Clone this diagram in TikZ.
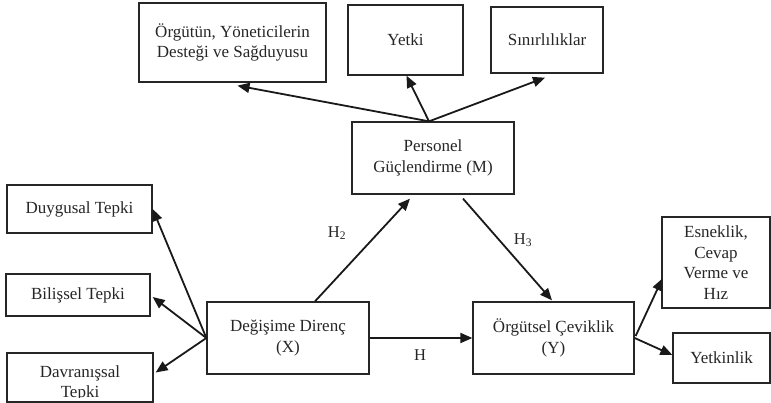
\documentclass[tikz,border=0pt]{standalone}
\usepackage{fontspec}
\setmainfont{Liberation Serif}
\usetikzlibrary{arrows.meta,calc}
\begin{document}
\begin{tikzpicture}[x=1pt,y=-1pt,
  box/.style={draw=black!85, line width=1.3pt, inner sep=2pt, align=center,
    font=\fontsize{17}{20.5}\selectfont, text=black!85},
  arr/.style={draw=black!90, line width=1.8pt, -{Triangle[length=12pt,width=10pt]}},
  lab/.style={font=\fontsize{16.5}{18}\selectfont, text=black!85}]
\useasboundingbox (0,0) rectangle (771,403);
\node[box, minimum width=187pt, minimum height=79pt] (org) at (232.5,42.5) {Örgütün, Yöneticilerin\\Desteği ve Sağduyusu};
\node[box, minimum width=115pt, minimum height=70pt] (yetki) at (405.5,40) {Yetki};
\node[box, minimum width=112pt, minimum height=66pt] (sinir) at (547,40) {Sınırlılıklar};
\node[box, minimum width=162pt, minimum height=72pt] (M) at (433,158) {Personel\\Güçlendirme (M)};
\node[box, minimum width=145pt, minimum height=48pt] (duy) at (79.5,209) {Duygusal Tepki};
\node[box, minimum width=144pt, minimum height=42pt] (bil) at (78,295) {Bilişsel Tepki};
\begin{scope}
  \clip (8,354) rectangle (152,397);
  \node[box, draw=none, text width=140pt] (davtext) at (80,383.5) {Davranışsal\\Tepki};
\end{scope}
\node[box, fill=none, minimum width=146pt, minimum height=49pt] (dav) at (80,377.5) {};
\node[box, minimum width=162pt, minimum height=72pt] (X) at (288,338) {Değişime Direnç\\(X)};
\node[box, minimum width=161pt, minimum height=72pt] (Y) at (553.5,338) {Örgütsel Çeviklik\\(Y)};
\node[box, minimum width=108pt, minimum height=91pt] (esn) at (716,262.5) {Esneklik,\\Cevap\\Verme ve\\Hız};
\node[box, minimum width=97pt, minimum height=50pt] (yetkin) at (721.5,358) {Yetkinlik};

\coordinate (mtop) at ($(M.north)+(-4,0)$);
\draw[arr] (mtop) -- ($(org.south)+(5,3)$);
\draw[arr] (mtop) -- ($(yetki.south)+(1,0)$);
\draw[arr] (mtop) -- ($(sinir.south)+(-2,4)$);

\draw[arr] (X.west) -- (duy.east);
\draw[arr] (X.west) -- ($(bil.east)+(2,2)$);
\draw[arr] (X.west) -- ($(dav.east)+(2,-5)$);

\draw[arr] ($(X.north)+(27,0)$) -- ($(M.south)+(-23,4)$);
\draw[arr] ($(M.south)+(30,4)$) -- ($(Y.north)+(-1.5,-1)$);
\draw[arr] (X.east) -- (Y.west);
\draw[arr] ($(Y.east)+(1,-2)$) -- ($(esn.west)+(1,16)$);
\draw[arr] (Y.east) -- ($(yetkin.west)+(0,-3)$);

\node[lab] (h2) at (337,233) {H\textsubscript{2}};
\node[lab] (h3) at (523,240) {H\textsubscript{3}};
\node[lab] (h) at (420,355) {H};
\end{tikzpicture}
\end{document}
